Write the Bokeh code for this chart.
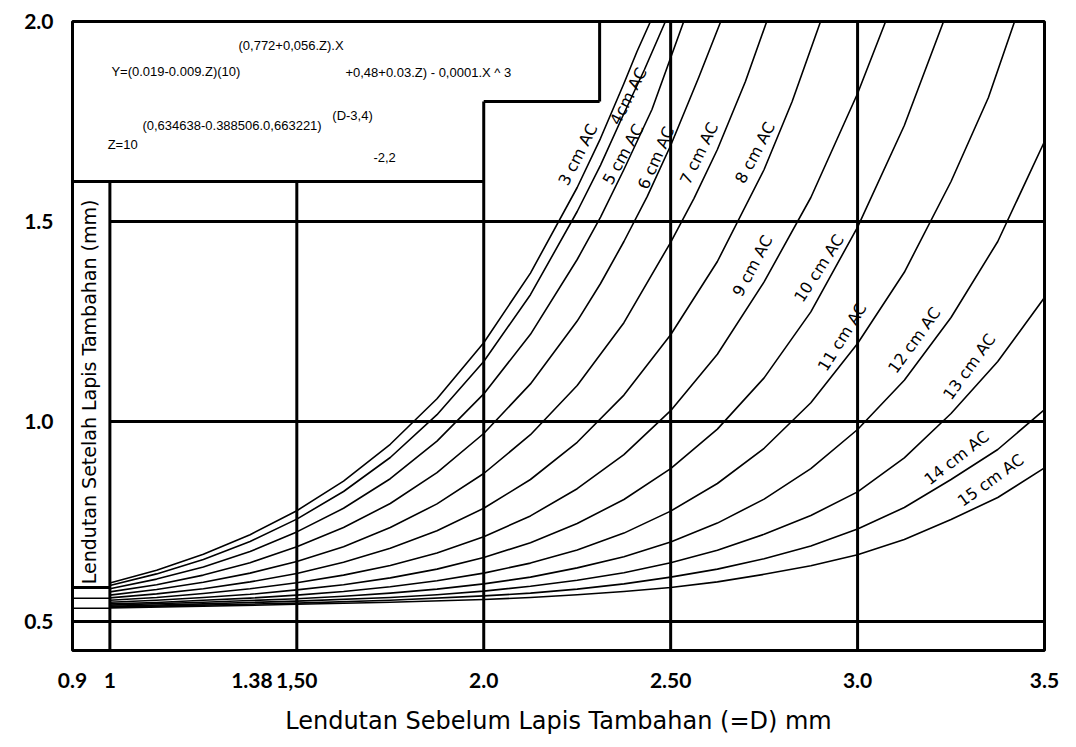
import math
from bokeh.plotting import figure
from bokeh.models import FixedTicker
from bokeh.embed import file_html
from bokeh.resources import INLINE
from bokeh.core.properties import value

# ---------------- data ----------------
X_TICKS = [0.9, 1.0, 1.38, 1.5, 2.0, 2.5, 3.0, 3.5]
X_TICK_LABELS = ["0.9", "1", "1.38", "1,50", "2.0", "2.50", "3.0", "3.5"]
Y_TICKS = [0.5, 1.0, 1.5, 2.0]
Y_TICK_LABELS = ["0.5", "1.0", "1.5", "2.0"]

ac3_x = [1.0, 1.125, 1.25, 1.375, 1.5, 1.625, 1.75, 1.875, 2.0, 2.125, 2.25, 2.3125, 2.375, 2.41, 2.446]
ac3_y = [0.596, 0.628, 0.668, 0.717, 0.777, 0.851, 0.943, 1.057, 1.197, 1.371, 1.585, 1.708, 1.845, 1.925, 2.0]
ac4_x = [1.0, 1.125, 1.25, 1.375, 1.5, 1.625, 1.75, 1.875, 2.0, 2.125, 2.25, 2.3125, 2.375, 2.43, 2.486]
ac4_y = [0.590, 0.619, 0.655, 0.700, 0.756, 0.825, 0.910, 1.017, 1.150, 1.317, 1.525, 1.641, 1.77, 1.88, 2.0]
ac5_x = [1.0, 1.125, 1.25, 1.375, 1.5, 1.625, 1.75, 1.875, 2.0, 2.125, 2.25, 2.3125, 2.375, 2.45, 2.535]
ac5_y = [0.582, 0.606, 0.636, 0.675, 0.724, 0.783, 0.857, 0.951, 1.069, 1.218, 1.405, 1.511, 1.63, 1.78, 2.0]
ac6_x = [1.0, 1.125, 1.25, 1.375, 1.5, 1.625, 1.75, 1.875, 2.0, 2.125, 2.25, 2.3125, 2.375, 2.4375,
         2.5, 2.575, 2.634]
ac6_y = [0.574, 0.592, 0.616, 0.647, 0.687, 0.735, 0.795, 0.872, 0.970, 1.094, 1.251, 1.345, 1.45, 1.563,
         1.69, 1.86, 2.0]
ac7_x = [1.0, 1.125, 1.25, 1.375, 1.5, 1.625, 1.75, 1.875, 2.0, 2.125, 2.25, 2.375, 2.5, 2.5625,
         2.625, 2.7, 2.757]
ac7_y = [0.566, 0.580, 0.598, 0.621, 0.650, 0.687, 0.735, 0.794, 0.870, 0.967, 1.090, 1.247, 1.448, 1.558,
         1.68, 1.85, 2.0]
ac8_x = [1.0, 1.125, 1.25, 1.375, 1.5, 1.625, 1.75, 1.875, 2.0, 2.125, 2.25, 2.375, 2.5, 2.625,
         2.75, 2.825, 2.901]
ac8_y = [0.559, 0.569, 0.582, 0.599, 0.620, 0.648, 0.683, 0.727, 0.783, 0.855, 0.948, 1.066, 1.217, 1.40,
         1.63, 1.80, 2.0]
ac9_x = [1.0, 1.125, 1.25, 1.375, 1.5, 1.625, 1.75, 1.875, 2.0, 2.125, 2.25, 2.375, 2.5, 2.625,
         2.75, 2.875, 3.0, 3.075]
ac9_y = [0.553, 0.560, 0.570, 0.582, 0.597, 0.616, 0.640, 0.671, 0.712, 0.764, 0.832, 0.917, 1.027, 1.168,
         1.349, 1.56, 1.82, 2.0]
ac10_x = [1.0, 1.125, 1.25, 1.375, 1.5, 1.625, 1.75, 1.875, 2.0, 2.125, 2.25, 2.375, 2.5, 2.625,
          2.75, 2.875, 3.0, 3.125, 3.23]
ac10_y = [0.548, 0.553, 0.560, 0.568, 0.579, 0.592, 0.609, 0.631, 0.660, 0.697, 0.745, 0.805, 0.882, 0.981,
          1.109, 1.274, 1.486, 1.74, 2.0]
ac11_x = [1.0, 1.125, 1.25, 1.375, 1.5, 1.625, 1.75, 1.875, 2.0, 2.125, 2.25, 2.375, 2.5, 2.625,
          2.75, 2.875, 3.0, 3.125, 3.25, 3.35, 3.42]
ac11_y = [0.544, 0.5475, 0.553, 0.5585, 0.566, 0.575, 0.587, 0.602, 0.621, 0.646, 0.679, 0.721, 0.776, 0.845,
          0.933, 1.047, 1.195, 1.373, 1.60, 1.81, 2.0]
ac12_x = [1.0, 1.25, 1.5, 1.625, 1.75, 1.875, 2.0, 2.125, 2.25, 2.375, 2.5, 2.625, 2.75, 2.875,
          3.0, 3.125, 3.25, 3.375, 3.5]
ac12_y = [0.541, 0.548, 0.557, 0.563, 0.571, 0.581, 0.594, 0.611, 0.634, 0.662, 0.699, 0.746, 0.806, 0.882,
          0.980, 1.103, 1.26, 1.45, 1.70]
ac13_x = [1.0, 1.25, 1.5, 1.75, 1.875, 2.0, 2.125, 2.25, 2.375, 2.5, 2.625, 2.75, 2.875, 3.0,
          3.125, 3.25, 3.375, 3.5]
ac13_y = [0.538, 0.544, 0.551, 0.560, 0.567, 0.576, 0.588, 0.603, 0.622, 0.647, 0.678, 0.718, 0.765, 0.824,
          0.909, 1.02, 1.15, 1.31]
ac14_x = [1.0, 1.25, 1.5, 1.75, 2.0, 2.125, 2.25, 2.375, 2.5, 2.625, 2.75, 2.875, 3.0, 3.125,
          3.25, 3.375, 3.5]
ac14_y = [0.536, 0.541, 0.546, 0.553, 0.564, 0.571, 0.581, 0.594, 0.611, 0.631, 0.657, 0.689, 0.731, 0.785,
          0.855, 0.93, 1.03]
ac15_x = [1.0, 1.25, 1.5, 1.75, 2.0, 2.125, 2.25, 2.375, 2.5, 2.625, 2.75, 2.875, 3.0, 3.125,
          3.25, 3.375, 3.5]
ac15_y = [0.534, 0.538, 0.543, 0.548, 0.555, 0.560, 0.567, 0.575, 0.585, 0.599, 0.618, 0.6395, 0.667, 0.705,
          0.755, 0.81, 0.884]

CURVE_NAMES = ["3 cm AC", "4cm AC", "5 cm AC", "6 cm AC", "7 cm AC", "8 cm AC", "9 cm AC",
               "10 cm AC", "11 cm AC", "12 cm AC", "13 cm AC", "14 cm AC", "15 cm AC"]
CURVES_X = [ac3_x, ac4_x, ac5_x, ac6_x, ac7_x, ac8_x, ac9_x, ac10_x, ac11_x, ac12_x, ac13_x, ac14_x, ac15_x]
CURVES_Y = [ac3_y, ac4_y, ac5_y, ac6_y, ac7_y, ac8_y, ac9_y, ac10_y, ac11_y, ac12_y, ac13_y, ac14_y, ac15_y]

# label anchor (data coords) and angle (deg) for each curve label
label_x = [2.252, 2.387, 2.373, 2.461, 2.576, 2.726, 2.719, 2.897, 2.959, 3.152, 3.299, 3.265, 3.356]
label_y = [1.667, 1.813, 1.668, 1.659, 1.670, 1.672, 1.389, 1.383, 1.211, 1.203, 1.137, 0.909, 0.853]
label_angle = [63, 63, 61, 66, 64, 62, 62, 57, 58, 54, 54, 38, 36]

# ---------------- figure ----------------
p = figure(frame_width=972, frame_height=629, x_range=(0.9, 3.5), y_range=(0.4275, 2.0),
           output_backend="svg", toolbar_location=None, title=None,
           min_border_left=72, min_border_right=32, min_border_top=21, min_border_bottom=97)
p.grid.visible = False
p.outline_line_color = "black"
p.outline_line_width = 3
p.background_fill_color = "white"
p.border_fill_color = "white"

p.xaxis.ticker = FixedTicker(ticks=X_TICKS)
p.xaxis.major_label_overrides = dict(zip(X_TICKS, X_TICK_LABELS))
p.yaxis.ticker = FixedTicker(ticks=Y_TICKS)
p.yaxis.major_label_overrides = dict(zip(Y_TICKS, Y_TICK_LABELS))
for ax in (p.xaxis[0], p.yaxis[0]):
    ax.axis_line_color = None
    ax.major_tick_line_color = None
    ax.minor_tick_line_color = None
    ax.major_tick_out = 0
    ax.major_tick_in = 0
    ax.major_label_text_font = "Lato"
    ax.major_label_text_font_style = "bold"
    ax.major_label_text_font_size = "21px"
    ax.major_label_text_color = "black"
p.xaxis.major_label_standoff = 22
p.yaxis.major_label_standoff = 19
p.xaxis.axis_label = "Lendutan Sebelum Lapis Tambahan (=D) mm"
p.xaxis.axis_label_text_font = "DejaVu Sans"
p.xaxis.axis_label_text_font_style = "normal"
p.xaxis.axis_label_text_font_size = "24px"
p.xaxis.axis_label_text_color = "black"
p.xaxis.axis_label_standoff = 16

# ---------------- frame rules ----------------
YB = 0.4275
h_x0 = [1.0, 1.0, 0.9, 0.9, 2.0, 0.9]
h_x1 = [3.5, 3.5, 3.5, 2.0, 2.31, 1.0]
h_y = [1.5, 1.0, 0.5, 1.6, 1.8, 0.585]
p.segment(x0=h_x0, y0=h_y, x1=h_x1, y1=h_y, line_color="black", line_width=3)

v_x = [1.0, 1.5, 2.0, 2.31, 2.5, 3.0]
v_y0 = [YB, YB, YB, 1.8, YB, YB]
v_y1 = [1.6, 1.6, 1.8, 2.0, 2.0, 2.0]
p.segment(x0=v_x, y0=v_y0, x1=v_x, y1=v_y1, line_color="black", line_width=3)

col_y = [0.558, 0.533]
p.segment(x0=[0.9] * len(col_y), y0=col_y, x1=[1.0] * len(col_y), y1=col_y,
          line_color="black", line_width=1.5)

# ---------------- curves ----------------
for cx, cy in zip(CURVES_X, CURVES_Y):
    p.line(cx, cy, line_color="black", line_width=1.6, line_join="round")

p.text(x=label_x, y=label_y, text=CURVE_NAMES, angle=[math.radians(a) for a in label_angle],
       text_align="center", text_baseline="middle", text_font=value("DejaVu Sans"),
       text_font_size="16px", text_color="black")

# ---------------- y axis title inside the left column ----------------
p.text(x=[0.943], y=[1.074], text=["Lendutan Setelah Lapis Tambahan (mm)"], angle=[math.pi / 2],
       text_align="center", text_baseline="middle", text_font=value("DejaVu Sans"),
       text_font_size="19px", text_color="black")

# ---------------- formula box ----------------
f_x = [1.344, 1.004, 1.630, 1.087, 1.595, 0.994, 1.705]
f_y = [1.940, 1.875, 1.8725, 1.740, 1.765, 1.6925, 1.660]
f_text = ["(0,772+0,056.Z).X", "Y=(0.019-0.009.Z)(10)", "+0,48+0.03.Z) - 0,0001.X ^ 3",
          "(0,634638-0.388506.0,663221)", "(D-3,4)", "Z=10", "-2,2"]
p.text(x=f_x, y=f_y, text=f_text, text_align="left", text_baseline="middle",
       text_font=value("Liberation Sans"), text_font_size="13px", text_color="black")

open("out.html", "w").write(file_html(p, INLINE))
